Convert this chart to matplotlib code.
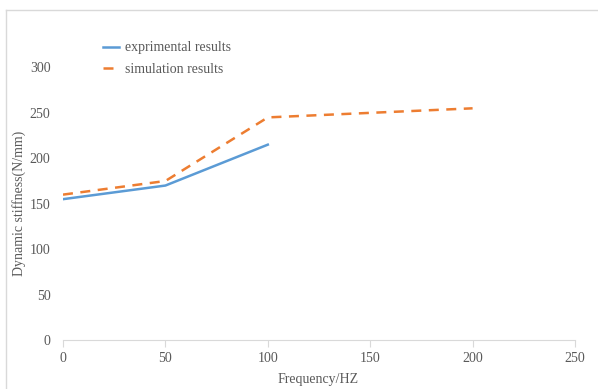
import numpy as np
import matplotlib.pyplot as plt
from matplotlib.lines import Line2D

freq_exp = [0, 50, 100]
stiff_exp = [155, 170, 215]
freq_sim = [0, 50, 100, 200]
stiff_sim = [160, 175, 245, 255]
x_ticks = [0, 50, 100, 150, 200, 250]
y_ticks = [0, 50, 100, 150, 200, 250, 300]

plt.rcParams['font.family'] = ['Liberation Serif', 'DejaVu Serif']
txt = '#595959'
grey = '#D9D9D9'
fs = 10

W, H = 598, 389
fig = plt.figure(figsize=(W / 100, H / 100), dpi=100)
ax = fig.add_axes([63 / W, (H - 340) / H, (575 - 63) / W, (340 - 22) / H])

ax.plot(freq_exp, stiff_exp, color='#5B9BD5', lw=1.8, label='exprimental results')
ax.plot(freq_sim, stiff_sim, color='#ED7D31', lw=1.8, ls=(0, (4, 3)), label='simulation results')

ax.set_xlim(0, 250)
ax.set_ylim(0, 350)
ax.set_xticks(x_ticks)
ax.set_yticks(y_ticks)
for s in ['top', 'right', 'left']:
    ax.spines[s].set_visible(False)
ax.spines['bottom'].set_color(grey)
ax.tick_params(axis='x', colors=grey, length=5, labelcolor=txt, labelsize=fs, pad=4)
ax.tick_params(axis='y', length=0, labelcolor=txt, labelsize=fs, pad=9)

ax.legend(loc='upper left', bbox_to_anchor=(0.053, 0.978), frameon=False,
          fontsize=fs, labelcolor=txt, handlelength=1.15, handletextpad=0.45,
          labelspacing=0.6)

fig.text(19 / W, 1 - 203 / H, 'Dynamic stiffness(N/mm)', rotation=90, ha='center',
         va='center', color=txt, fontsize=fs)
fig.text(318 / W, 1 - 380 / H, 'Frequency/HZ', ha='center', va='center',
         color=txt, fontsize=fs)

# outer frame: top and left edges only
fig.lines.append(Line2D([6 / W, 1], [1 - 10 / H, 1 - 10 / H], transform=fig.transFigure,
                        color=grey, lw=1))
fig.lines.append(Line2D([6 / W, 6 / W], [0, 1 - 10 / H], transform=fig.transFigure,
                        color=grey, lw=1))

fig.savefig('out.png', dpi=100)
